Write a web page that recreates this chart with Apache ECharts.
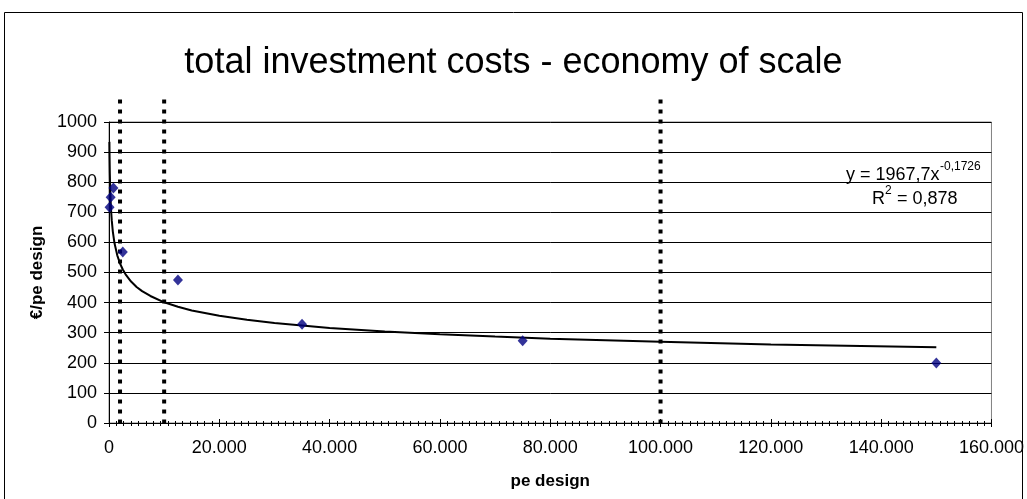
<!DOCTYPE html>
<html>
<head>
<meta charset="utf-8">
<script src="https://cdn.jsdelivr.net/npm/echarts@6/dist/echarts.min.js"></script>
<style>
html,body{margin:0;padding:0;background:#fff;}
#c{width:1027px;height:499px;}
</style>
</head>
<body>
<div id="c"></div>
<script>
// measured data points (pe design, €/pe design)
const peDesign = [100, 300, 800, 2500, 12500, 35000, 75000, 150000];
const costPerPe = [717, 750, 781, 568, 475, 328, 273, 199];

// power trendline
const trendX = [75, 100, 150, 200, 300, 400, 500, 700, 1000, 1500, 2000, 2500, 3000, 4000, 5000, 6000, 7500, 10000, 12500, 15000, 20000, 25000, 30000, 40000, 50000, 60000, 70000, 80000, 90000, 100000, 120000, 150000];
const trendY = [934, 889, 829, 788, 735, 700, 673, 635, 597, 557, 530, 510, 494, 470, 452, 438, 422, 401, 386, 374, 356, 343, 332, 316, 304, 295, 287, 280, 275, 270, 261, 252];

// vertical dotted marker lines
const markerX = [2000, 10000, 100000];
const markerTop = 1075;

const xTicks = { min: 0, max: 160000, interval: 20000 };
const yTicks = { min: 0, max: 1000, interval: 100 };

const titleText = 'total investment costs - economy of scale';
const xName = 'pe design';
const yName = '€/pe design';
const eqMain = 'y = 1967,7x';
const eqSup = '-0,1726';
const r2Main = 'R';
const r2Sup = '2';
const r2Rest = ' = 0,878';

const FONT = '"Liberation Sans", Arial, sans-serif';

function fmtThousands(v) {
  return String(v).replace(/\B(?=(\d{3})+(?!\d))/g, '.');
}

const chart = echarts.init(document.getElementById('c'), null, { renderer: 'canvas' });

const series = [];
markerX.forEach(function (mx) {
  series.push({
    type: 'line',
    xAxisIndex: 0, yAxisIndex: 0,
    data: [[mx, markerTop], [mx, 0]],
    clip: false,
    symbol: 'none',
    silent: true,
    lineStyle: { color: '#000', width: 4, type: [4, 6], cap: 'butt' },
    z: 3
  });
});
series.push({
  type: 'line',
  xAxisIndex: 0, yAxisIndex: 0,
  data: trendX.map(function (x, i) { return [x, trendY[i]]; }),
  smooth: false,
  symbol: 'none',
  silent: true,
  lineStyle: { color: '#000', width: 2 },
  z: 4
});
series.push({
  type: 'scatter',
  xAxisIndex: 0, yAxisIndex: 0,
  data: peDesign.map(function (x, i) { return [x, costPerPe[i]]; }),
  symbol: 'diamond',
  symbolSize: [10, 11],
  itemStyle: { color: '#000080' },
  z: 5
});

const option = {
  animation: false,
  backgroundColor: '#fff',
  textStyle: { fontFamily: FONT },
  title: {
    text: titleText,
    left: 'center',
    top: 40,
    textStyle: { fontFamily: FONT, fontSize: 36, fontWeight: 'normal', color: '#000' }
  },
  grid: {
    left: 109, right: 32, top: 122, bottom: 76,
    show: true, borderColor: '#808080', borderWidth: 1, backgroundColor: 'transparent'
  },
  xAxis: [{
    type: 'value',
    min: xTicks.min, max: xTicks.max, interval: xTicks.interval,
    name: xName,
    nameLocation: 'middle',
    nameGap: 50,
    nameTextStyle: { fontFamily: FONT, fontSize: 17, fontWeight: 'bold', color: '#000' },
    axisLine: { show: true, onZero: false, lineStyle: { color: '#000', width: 1 } },
    axisTick: { show: true, inside: false, length: 4, lineStyle: { color: '#000' } },
    minorTick: { show: true, splitNumber: 15, length: 3, lineStyle: { color: '#000' } },
    axisLabel: { fontFamily: FONT, fontSize: 18, color: '#000', margin: 16, formatter: fmtThousands },
    splitLine: { show: false }
  }, {
    type: 'value',
    position: 'bottom',
    min: xTicks.min, max: xTicks.max, interval: xTicks.interval,
    axisLine: { show: false },
    axisTick: { show: true, inside: true, length: 4, lineStyle: { color: '#000' } },
    minorTick: { show: true, splitNumber: 15, length: 2, lineStyle: { color: '#000' } },
    axisLabel: { show: false },
    splitLine: { show: false }
  }],
  yAxis: [{
    type: 'value',
    min: yTicks.min, max: yTicks.max, interval: yTicks.interval,
    name: yName,
    nameLocation: 'middle',
    nameGap: 62,
    nameRotate: 90,
    nameTextStyle: { fontFamily: FONT, fontSize: 17, fontWeight: 'bold', color: '#000' },
    axisLine: { show: true, onZero: false, lineStyle: { color: '#000', width: 1 } },
    axisTick: { show: true, inside: false, length: 5, lineStyle: { color: '#000' } },
    axisLabel: { fontFamily: FONT, fontSize: 18, color: '#000', margin: 12, formatter: function (v) { return String(v); } },
    splitLine: { show: true, lineStyle: { color: '#000', width: 1 } }
  }],
  graphic: [
    {
      type: 'rect', silent: true, z: 0,
      shape: { x: 4.5, y: 12.5, width: 1018, height: 500 },
      style: { fill: 'none', stroke: '#000', lineWidth: 1 }
    },
    {
      type: 'text', silent: true, z: 10,
      left: 846, top: 166,
      style: { text: eqMain, font: '18px ' + FONT, fill: '#000' }
    },
    {
      type: 'text', silent: true, z: 10,
      left: 940, top: 161,
      style: { text: eqSup, font: '12px ' + FONT, fill: '#000' }
    },
    {
      type: 'text', silent: true, z: 10,
      left: 872, top: 190,
      style: { text: r2Main, font: '18px ' + FONT, fill: '#000' }
    },
    {
      type: 'text', silent: true, z: 10,
      left: 885, top: 185,
      style: { text: r2Sup, font: '12px ' + FONT, fill: '#000' }
    },
    {
      type: 'text', silent: true, z: 10,
      left: 892, top: 190,
      style: { text: r2Rest, font: '18px ' + FONT, fill: '#000' }
    }
  ],
  series: series
};

chart.setOption(option);
</script>
</body>
</html>
